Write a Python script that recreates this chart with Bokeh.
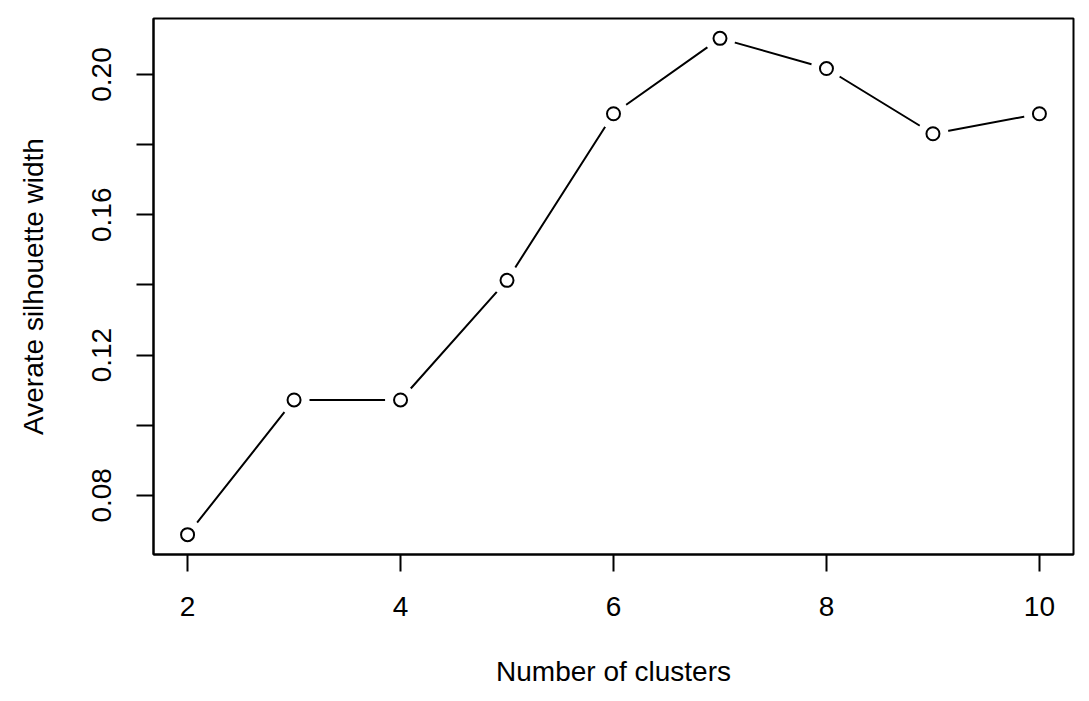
from bokeh.plotting import figure
from bokeh.models import FixedTicker, Range1d
from bokeh.embed import file_html
from bokeh.resources import INLINE

clusters = [2, 3, 4, 5, 6, 7, 8, 9, 10]
avg_sil = [0.0688, 0.1072, 0.1072, 0.1413, 0.1888, 0.2103, 0.2017, 0.1831, 0.1888]
x_ticks = [2, 4, 6, 8, 10]
y_ticks = [0.08, 0.10, 0.12, 0.14, 0.16, 0.18, 0.20]
y_labels = {0.08: "0.08", 0.10: "", 0.12: "0.12", 0.14: "", 0.16: "0.16", 0.18: "", 0.20: "0.20"}

FONT = "Liberation Sans"

xmin, xmax = min(clusters), max(clusters)
ymin, ymax = min(avg_sil), max(avg_sil)
xe = (xmax - xmin) * 0.04
ye = (ymax - ymin) * 0.04

p = figure(width=1081, height=693, output_backend="svg", toolbar_location=None,
           x_range=Range1d(xmin - xe, xmax + xe), y_range=Range1d(ymin - ye, ymax + ye),
           min_border_left=153, min_border_right=8, min_border_top=18, min_border_bottom=139)
p.grid.visible = False
p.outline_line_color = "black"
p.outline_line_width = 2
p.background_fill_color = "white"
p.border_fill_color = "white"

p.line(clusters, avg_sil, line_color="black", line_width=2)
p.scatter(clusters, avg_sil, size=31, fill_color="white", line_color=None)
p.scatter(clusters, avg_sil, size=13, fill_color="white", line_color="black", line_width=2)

for ax in (p.xaxis[0], p.yaxis[0]):
    ax.axis_line_color = "black"
    ax.axis_line_width = 2
    ax.major_tick_line_color = "black"
    ax.major_tick_line_width = 2
    ax.major_tick_out = 17
    ax.major_tick_in = 0
    ax.minor_tick_line_color = None
    ax.major_label_text_font = FONT
    ax.major_label_text_font_size = "28px"
    ax.major_label_text_color = "black"
    ax.axis_label_text_font = FONT
    ax.axis_label_text_font_size = "28px"
    ax.axis_label_text_font_style = "normal"
    ax.axis_label_text_color = "black"

p.xaxis[0].ticker = FixedTicker(ticks=x_ticks)
p.xaxis[0].axis_label = "Number of clusters"
p.xaxis[0].major_label_standoff = 25
p.xaxis[0].axis_label_standoff = 37

p.yaxis[0].ticker = FixedTicker(ticks=y_ticks)
p.yaxis[0].major_label_overrides = y_labels
p.yaxis[0].major_label_orientation = "vertical"
p.yaxis[0].axis_label = "Averate silhouette width"
p.yaxis[0].major_label_standoff = 25
p.yaxis[0].axis_label_standoff = 41

open("out.html", "w").write(file_html(p, INLINE))
